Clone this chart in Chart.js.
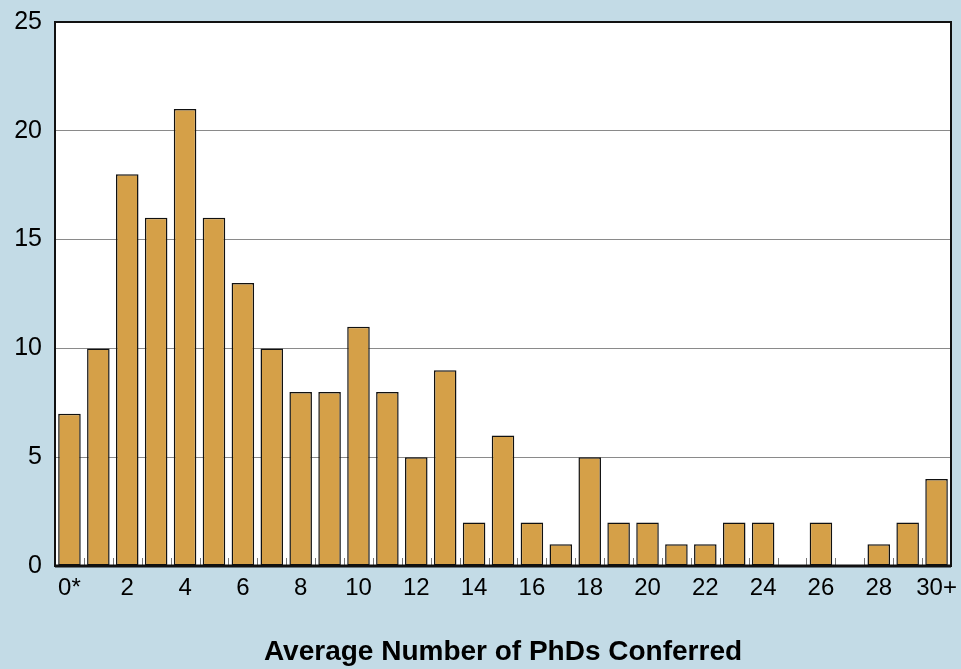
<!doctype html>
<html>
<head>
	<title>PhDs Conferred</title>
	<script src="https://cdn.jsdelivr.net/npm/chart.js@4.4.1/dist/chart.umd.min.js"></script>
	<style>
		html, body { margin: 0; padding: 0; background: #c3dbe6; }
		#wrap { width: 961px; height: 669px; }
	</style>
</head>
<body>
	<div id="wrap"><canvas id="canvas"></canvas></div>
	<script>
		// categories and counts
		var categories = ['0*', '1', '2', '3', '4', '5', '6', '7', '8', '9', '10', '11', '12', '13', '14', '15',
			'16', '17', '18', '19', '20', '21', '22', '23', '24', '25', '26', '27', '28', '29', '30+'];
		var counts = [7, 10, 18, 16, 21, 16, 13, 10, 8, 8, 11, 8, 5, 9, 2, 6,
			2, 1, 5, 2, 2, 1, 1, 2, 2, 0, 2, 0, 1, 2, 4];
		var yTicks = [0, 5, 10, 15, 20, 25];
		var xTitle = 'Average Number of PhDs Conferred';

		var fontFamily = '"Liberation Sans", Arial, sans-serif';

		// white plot box with black frame plus small ticks between the bars
		var frame = {
			id: 'frame',
			beforeDraw: function (chart) {
				var a = chart.chartArea, ctx = chart.ctx;
				ctx.save();
				ctx.fillStyle = '#ffffff';
				ctx.fillRect(a.left, a.top, a.right - a.left, a.bottom - a.top);
				ctx.restore();
			},
			afterDatasetsDraw: function (chart) {
				var a = chart.chartArea, ctx = chart.ctx, x = chart.scales.x;
				ctx.save();
				ctx.strokeStyle = '#777';
				ctx.lineWidth = 1;
				for (var i = 1; i < categories.length; i++) {
					var px = Math.round((x.getPixelForValue(i - 1) + x.getPixelForValue(i)) / 2) + 0.5;
					ctx.beginPath();
					ctx.moveTo(px, a.bottom);
					ctx.lineTo(px, a.bottom - 8);
					ctx.stroke();
				}
				ctx.strokeStyle = '#111';
				ctx.lineWidth = 2;
				ctx.strokeRect(a.left, a.top, a.right - a.left, a.bottom - a.top);
				ctx.lineWidth = 3;
				ctx.beginPath();
				ctx.moveTo(a.left, a.bottom);
				ctx.lineTo(a.right, a.bottom);
				ctx.stroke();
				ctx.restore();
			}
		};

		var config = {
			type: 'bar',
			data: {
				labels: categories,
				datasets: [{
					data: counts,
					backgroundColor: '#d5a048',
					borderColor: '#111',
					borderWidth: 1.5,
					borderSkipped: false,
					categoryPercentage: 1,
					barPercentage: 0.78
				}]
			},
			options: {
				responsive: true,
				maintainAspectRatio: false,
				animation: false,
				layout: { padding: { top: 22, right: 10, left: 0, bottom: 0 } },
				plugins: {
					legend: { display: false },
					tooltip: { enabled: false }
				},
				scales: {
					x: {
						grid: { display: false, drawTicks: false },
						border: { display: false },
						ticks: {
							autoSkip: false,
							maxRotation: 0,
							padding: 8,
							color: '#000',
							font: { family: fontFamily, size: 24 },
							callback: function (v, i) { return i % 2 === 0 ? categories[i] : ''; }
						},
						title: {
							display: true,
							text: xTitle,
							color: '#000',
							font: { family: fontFamily, size: 28, weight: 'bold' },
							padding: { top: -1, bottom: 0 }
						},
						afterFit: function (s) {
							s.height = 103;
							s.paddingLeft = 0;
							s.paddingRight = 0;
						}
					},
					y: {
						min: 0,
						max: 25,
						afterBuildTicks: function (s) { s.ticks = yTicks.map(function (v) { return { value: v }; }); },
						grid: { color: '#8a8a8a', lineWidth: 1, drawTicks: false },
						border: { display: false },
						ticks: {
							padding: 13,
							color: '#000',
							font: { family: fontFamily, size: 25 }
						},
						afterFit: function (s) {
							s.width = 55;
							s.paddingTop = 0;
							s.paddingBottom = 0;
						}
					}
				}
			},
			plugins: [frame]
		};

		window.onload = function () {
			var ctx = document.getElementById('canvas').getContext('2d');
			window.myBar = new Chart(ctx, config);
		};
	</script>
</body>
</html>
